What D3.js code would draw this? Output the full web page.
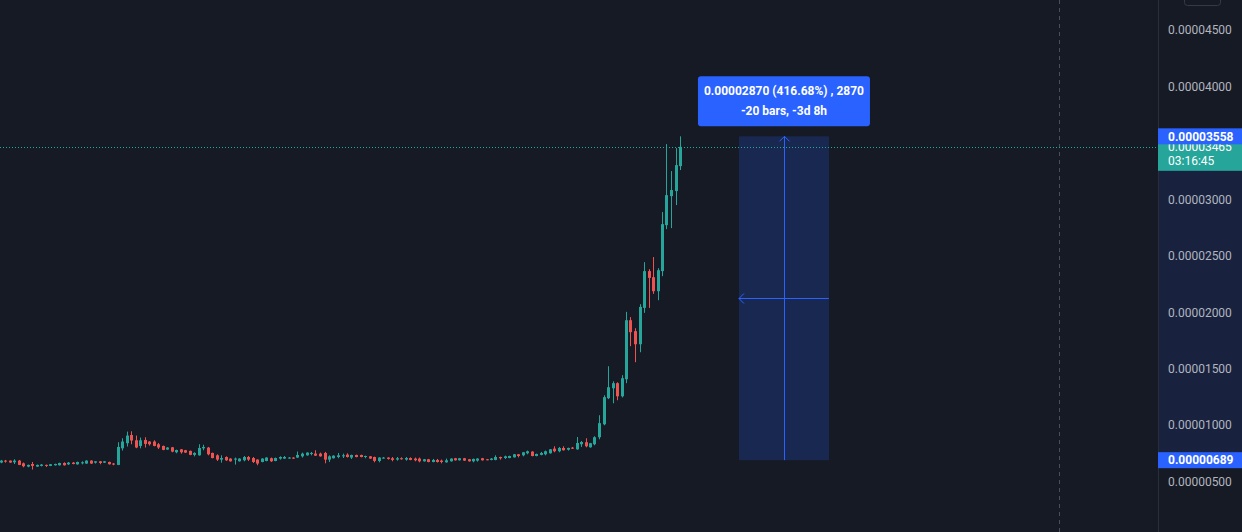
<!DOCTYPE html>
<html><head><meta charset="utf-8">
<script src="https://cdn.jsdelivr.net/npm/d3@7"></script>
<style>
html,body{margin:0;padding:0;background:#161a25;overflow:hidden}
svg{display:block;font-family:Roboto,"Liberation Sans",sans-serif}
</style></head><body>
<svg id="c" width="1242" height="532"></svg>
<script>
// prices in units of 0.00000001 (4h candles)
const opens = [668,685,685,670,685,661,632,655,632,638,647,638,644,644,664,652,667,652,661,659,685,667,679,667,673,659,647,794,839,912,865,815,868,854,854,830,815,783,803,759,785,777,771,736,732,794,800,753,732,694,717,703,694,679,688,717,708,694,673,682,706,682,703,703,706,712,712,723,732,747,747,747,753,694,706,717,723,738,712,735,735,717,723,717,682,706,712,706,694,706,694,708,703,703,679,697,673,691,685,670,679,706,688,706,697,679,685,706,697,691,691,717,708,708,714,741,732,750,765,726,736,741,750,791,768,797,782,800,785,830,848,803,830,892,1007,1238,1326,1371,1255,1406,1929,1832,1716,2038,2364,2310,2186,2364,2771,3028,3073,3294];
const highs = [691,691,687,697,691,668,650,673,650,655,650,655,658,667,670,673,673,676,679,688,688,679,682,682,676,664,848,883,942,945,907,889,892,857,865,841,818,804,806,782,788,780,774,759,830,826,806,756,741,732,723,706,712,706,726,726,717,697,706,715,712,712,723,726,717,715,765,756,759,762,777,756,762,732,732,753,747,750,738,738,738,729,726,720,715,717,715,717,717,714,717,714,712,712,700,700,700,700,694,703,706,709,709,709,700,703,706,709,700,708,732,720,729,729,744,744,762,774,768,747,762,774,788,812,806,812,800,806,894,859,883,842,901,1087,1264,1521,1388,1379,1442,2003,1956,1858,2071,2443,2381,2488,2390,2887,3489,3250,3454,3558];
const lows = [662,667,665,655,645,626,626,606,630,634,629,636,641,641,641,647,652,650,652,656,656,659,653,664,650,644,645,774,810,830,795,794,801,818,812,788,777,780,759,750,747,753,733,723,729,777,732,705,682,667,682,676,650,676,679,682,664,644,670,679,673,679,694,700,703,700,709,712,729,732,726,720,661,673,703,706,708,712,700,714,714,706,700,670,670,703,694,679,685,694,685,688,679,670,676,670,670,668,661,667,676,685,685,682,676,670,676,685,688,688,688,694,700,706,712,714,723,741,723,723,732,732,747,759,759,774,774,788,782,806,803,800,821,874,998,1230,1193,1220,1245,1371,1699,1557,1645,1994,2038,2162,2106,2319,2736,2745,2949,3259];
const closes = [685,676,668,685,647,635,647,638,647,650,638,653,655,664,644,667,655,673,670,685,659,679,664,679,653,653,806,854,907,863,801,865,833,830,815,801,780,801,765,779,759,756,736,753,797,806,741,708,694,708,688,679,703,703,717,694,673,659,703,712,679,708,717,717,712,703,735,747,756,753,729,723,694,723,729,732,732,717,735,717,717,726,703,682,712,712,700,691,706,697,708,691,688,679,697,673,691,673,673,688,703,688,706,685,679,700,703,688,691,703,717,706,723,726,741,726,759,768,726,744,753,768,785,768,797,777,797,791,841,850,812,839,892,1017,1247,1335,1371,1255,1415,1929,1823,1716,2047,2364,2304,2186,2372,2780,3037,3082,3303,3465];
const tickValues = [500,1000,1500,2000,2500,3000,3500,4000,4500];
const lastPrice = 3465, countdown = "03:16:45";
const measureHigh = 3558, measureLow = 689;
const measureStartIdx = 164.1, measureEndIdx = 184.1;
const measureText1 = "0.00002870 (416.68%) , 2870", measureText2 = "-20 bars, -3d 8h";
const sessionBreakIdx = 235.2;

const W = 1242, H = 532, axisX = 1158;
const fmt = v => (v * 1e-8).toFixed(8);
const svg = d3.select("#c");
const x = d3.scaleLinear().domain([0, 257]).range([0.5, 0.5 + 4.5 * 257]);
const y = d3.scaleLinear().domain([500, 4500]).range([481.5, 30]);
const up = "#26a69a", down = "#ef5350", blue = "#2962ff";

svg.append("rect").attr("width", W).attr("height", H).attr("fill", "#161a25");

// session break dashed line
svg.append("line").attr("x1", Math.round(x(sessionBreakIdx)) + 0.5).attr("x2", Math.round(x(sessionBreakIdx)) + 0.5)
  .attr("y1", 0).attr("y2", H).attr("stroke", "#4a4e5a").attr("stroke-dasharray", "4,4");

// measure box
const mx1 = x(measureStartIdx), mx2 = x(measureEndIdx);
svg.append("rect").attr("x", mx1).attr("y", y(measureHigh)).attr("width", mx2 - mx1)
  .attr("height", y(measureLow) - y(measureHigh)).attr("fill", "rgba(41,98,255,0.2)");
const mcx = Math.round((mx1 + mx2) / 2) + 0.5, mcy = Math.round((y(measureHigh) + y(measureLow)) / 2) + 0.5;
svg.append("line").attr("x1", mcx).attr("x2", mcx).attr("y1", y(measureHigh)).attr("y2", y(measureLow)).attr("stroke", blue);
svg.append("line").attr("x1", mx1).attr("x2", mx2).attr("y1", mcy).attr("y2", mcy).attr("stroke", blue);
svg.append("path").attr("d", `M${mcx-5},${y(measureHigh)+5} L${mcx},${y(measureHigh)} L${mcx+5},${y(measureHigh)+5}`)
  .attr("fill", "none").attr("stroke", blue);
svg.append("path").attr("d", `M${mx1+5},${mcy-5} L${mx1},${mcy} L${mx1+5},${mcy+5}`)
  .attr("fill", "none").attr("stroke", blue);
// tooltip
const tw = 172, th = 50, tx = (mx1 + mx2) / 2 - tw / 2, ty = y(measureHigh) - 10 - th;
svg.append("rect").attr("x", tx).attr("y", ty).attr("width", tw).attr("height", th).attr("rx", 3).attr("fill", blue);
svg.append("text").attr("x", tx + tw / 2).attr("y", ty + 15).attr("text-anchor", "middle").attr("dominant-baseline", "middle")
  .attr("fill", "#fff").attr("font-size", 12).attr("font-weight", "bold").text(measureText1);
svg.append("text").attr("x", tx + tw / 2).attr("y", ty + 35).attr("text-anchor", "middle").attr("dominant-baseline", "middle")
  .attr("fill", "#fff").attr("font-size", 12).attr("font-weight", "bold").text(measureText2);

// last price dotted line
svg.append("line").attr("x1", 0).attr("x2", axisX).attr("y1", Math.round(y(lastPrice)) + 0.5).attr("y2", Math.round(y(lastPrice)) + 0.5)
  .attr("stroke", up).attr("stroke-dasharray", "1,2");

// candles
const data = opens.map((o, i) => ({i, o, h: highs[i], l: lows[i], c: closes[i]}));
const g = svg.append("g");
g.selectAll("line.w").data(data).join("line")
  .attr("x1", d => Math.round(x(d.i)) + 0.5).attr("x2", d => Math.round(x(d.i)) + 0.5)
  .attr("y1", d => y(Math.max(d.h, d.o, d.c))).attr("y2", d => y(Math.min(d.l, d.o, d.c)))
  .attr("stroke", d => d.c >= d.o ? up : down).attr("stroke-width", 1);
g.selectAll("rect.b").data(data).join("rect")
  .attr("x", d => Math.round(x(d.i)) - 1).attr("width", 3)
  .attr("y", d => y(Math.max(d.o, d.c)))
  .attr("height", d => Math.max(1, Math.abs(y(d.o) - y(d.c))))
  .attr("fill", d => d.c >= d.o ? up : down);

// price axis
svg.append("rect").attr("x", axisX).attr("y", 0).attr("width", W - axisX).attr("height", H).attr("fill", "#161a25");
svg.append("rect").attr("x", axisX).attr("y", y(measureHigh)).attr("width", W - axisX)
  .attr("height", y(measureLow) - y(measureHigh)).attr("fill", "rgba(41,98,255,0.12)");
svg.append("line").attr("x1", axisX + 0.5).attr("x2", axisX + 0.5).attr("y1", 0).attr("y2", H).attr("stroke", "#2a2e39");
const ax = svg.append("g").attr("transform", `translate(${axisX},0)`)
  .call(d3.axisRight(y).tickValues(tickValues).tickSize(0).tickPadding(10).tickFormat(fmt));
ax.select(".domain").remove();
ax.selectAll("text").attr("fill", "#b2b5be").attr("font-size", 12).attr("font-family", "Roboto,sans-serif");

// top-right button outline
svg.append("rect").attr("x", 1184.5).attr("y", -6.5).attr("width", 36).attr("height", 12).attr("rx", 3)
  .attr("fill", "none").attr("stroke", "#363a45");

// last price label
const ly = y(lastPrice);
svg.append("rect").attr("x", axisX).attr("y", ly - 8).attr("width", W - axisX).attr("height", 32).attr("fill", up);
svg.append("text").attr("x", axisX + 10).attr("y", ly + 1).attr("dominant-baseline", "middle").attr("fill", "#fff").attr("font-size", 12).text(fmt(lastPrice));
svg.append("text").attr("x", axisX + 10).attr("y", ly + 15).attr("dominant-baseline", "middle").attr("fill", "#fff").attr("font-size", 12).text(countdown);
// measure labels
[measureHigh, measureLow].forEach(v => {
  svg.append("rect").attr("x", axisX).attr("y", y(v) - 8).attr("width", W - axisX).attr("height", 16).attr("fill", blue);
  svg.append("text").attr("x", axisX + 10).attr("y", y(v) + 1).attr("dominant-baseline", "middle").attr("fill", "#fff")
    .attr("font-size", 12).attr("font-weight", "bold").text(fmt(v));
});
</script></body></html>
